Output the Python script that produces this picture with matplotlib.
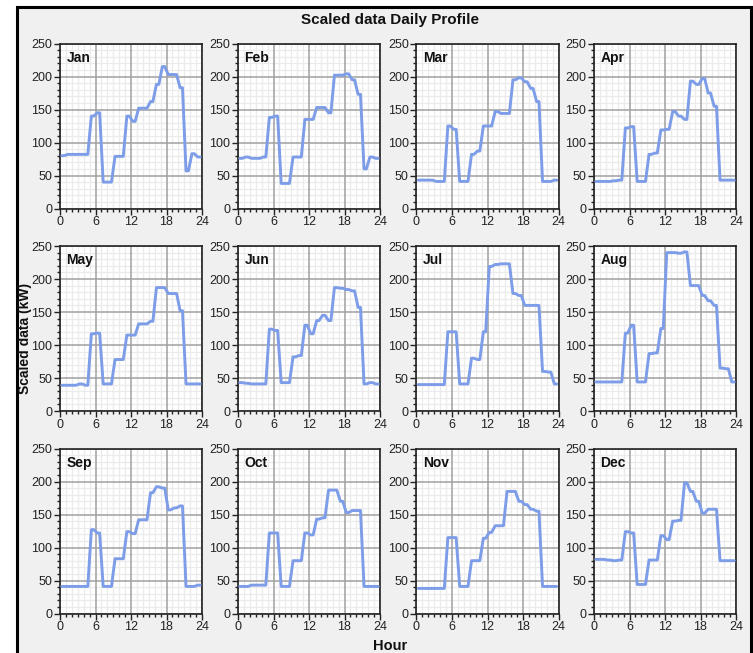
import numpy as np
import matplotlib
matplotlib.use("Agg")
import matplotlib.pyplot as plt
from matplotlib.patches import Rectangle
from matplotlib.ticker import MultipleLocator

plt.rcParams['font.family'] = ['Liberation Sans Narrow', 'Liberation Sans', 'DejaVu Sans']

months = ["Jan", "Feb", "Mar", "Apr", "May", "Jun", "Jul", "Aug", "Sep", "Oct", "Nov", "Dec"]
hours = np.arange(24)

jan = [80, 82, 82, 82, 82, 140, 145, 40, 40, 79, 79, 140, 132, 152, 152, 162, 188, 215, 203, 203, 183, 57, 83, 78]
feb = [76, 78, 76, 76, 78, 138, 140, 38, 38, 78, 78, 135, 135, 153, 153, 145, 202, 202, 204, 195, 173, 60, 78, 76]
mar = [43, 43, 43, 41, 41, 125, 120, 41, 41, 82, 87, 125, 125, 147, 144, 144, 195, 198, 192, 182, 162, 41, 41, 43]
apr = [41, 41, 41, 42, 43, 122, 124, 41, 41, 82, 84, 119, 120, 147, 140, 135, 193, 188, 197, 175, 155, 43, 43, 43]
may = [39, 39, 39, 41, 39, 117, 118, 41, 41, 78, 78, 115, 115, 132, 132, 136, 187, 187, 178, 178, 152, 41, 41, 41]
jun = [43, 42, 41, 41, 41, 124, 122, 43, 43, 82, 84, 130, 117, 137, 145, 137, 187, 186, 184, 182, 157, 41, 43, 41]
jul = [40, 40, 40, 40, 40, 120, 120, 41, 41, 80, 78, 120, 219, 222, 223, 223, 178, 175, 160, 160, 160, 60, 59, 41]
aug = [44, 44, 44, 44, 44, 118, 130, 44, 44, 87, 88, 125, 240, 240, 239, 241, 190, 190, 175, 167, 160, 65, 64, 44]
sep = [41, 41, 41, 41, 41, 127, 122, 41, 41, 83, 83, 124, 121, 142, 142, 183, 192, 190, 157, 160, 163, 41, 41, 43]
oct_ = [41, 41, 43, 43, 43, 122, 122, 41, 41, 80, 80, 122, 119, 143, 145, 187, 187, 170, 153, 156, 156, 41, 41, 41]
nov = [38, 38, 38, 38, 38, 115, 115, 41, 41, 80, 80, 114, 123, 133, 133, 185, 185, 170, 165, 158, 155, 41, 41, 41]
dec = [82, 82, 81, 80, 81, 124, 122, 44, 44, 81, 81, 118, 112, 140, 141, 198, 185, 170, 152, 158, 158, 80, 80, 80]
series = [jan, feb, mar, apr, may, jun, jul, aug, sep, oct_, nov, dec]

W, H = 753, 653
fig = plt.figure(figsize=(W / 100, H / 100), dpi=100)
fig.patch.set_facecolor("white")

# outer panel background (drawn beneath the axes)
bg = Rectangle((17 / W, -0.01), (751 - 17) / W, 1 - 7 / H + 0.01,
               transform=fig.transFigure, facecolor="#f0f0f0",
               edgecolor="black", linewidth=2.2, zorder=-10)
fig.add_artist(bg)

col_left = [60, 238, 416.5, 594]
row_top = [43.5, 246, 448.5]
aw, ah = 142, 165

# x positions: each hourly value held over part of the hour
xs = np.column_stack([hours + 0.3, hours + 0.7]).ravel()


def set_scales(a):
    a.set_xlim(0, 24)
    a.set_ylim(0, 250)
    a.xaxis.set_major_locator(MultipleLocator(6))
    a.xaxis.set_minor_locator(MultipleLocator(1))
    a.yaxis.set_major_locator(MultipleLocator(50))
    a.yaxis.set_minor_locator(MultipleLocator(10))


for i, (name, vals) in enumerate(zip(months, series)):
    r, c = divmod(i, 4)
    rect = [col_left[c] / W, 1 - (row_top[r] + ah) / H, aw / W, ah / H]

    # background axes carrying the fine (minor) grid
    axb = fig.add_axes(rect, zorder=1)
    axb.set_facecolor("white")
    set_scales(axb)
    axb.grid(which="minor", color="#ebebeb", lw=0.9)
    axb.tick_params(which="both", length=0, labelbottom=False, labelleft=False)
    for sp in axb.spines.values():
        sp.set_visible(False)

    # main axes: major grid, ticks, data line
    ax = fig.add_axes(rect, zorder=2)
    ax.patch.set_alpha(0)
    set_scales(ax)
    ax.grid(which="major", color="#a0a0a0", lw=1.1)
    ax.set_axisbelow(True)
    ys = np.repeat(np.asarray(vals, dtype=float), 2)
    ax.plot(xs, ys, color="#7d9de8", lw=2.1, zorder=3,
            solid_joinstyle="round", solid_capstyle="round")
    ax.tick_params(which="major", direction="out", length=4, width=1, colors="#222222",
                   labelsize=9, pad=1.5)
    ax.tick_params(which="minor", direction="out", length=2.5, width=1, colors="#222222")
    for sp in ax.spines.values():
        sp.set_color("#222222")
        sp.set_linewidth(1.2)
    ax.text(0.045, 0.955, name, transform=ax.transAxes, ha="left", va="top",
            fontsize=10, fontweight="bold", color="#111111")

fig.text(390 / W, 1 - 20 / H, "Scaled data Daily Profile", ha="center", va="center",
         fontsize=11, fontweight="bold", color="#111111")
fig.text(25 / W, 1 - 338 / H, "Scaled data (kW)", ha="center", va="center",
         rotation=90, fontsize=10, fontweight="bold", color="#111111",
         family=["Liberation Sans", "DejaVu Sans"])
fig.text(390 / W, 1 - 646 / H, "Hour", ha="center", va="center",
         fontsize=10.5, fontweight="bold", color="#111111")

fig.savefig("out.png", dpi=100)
